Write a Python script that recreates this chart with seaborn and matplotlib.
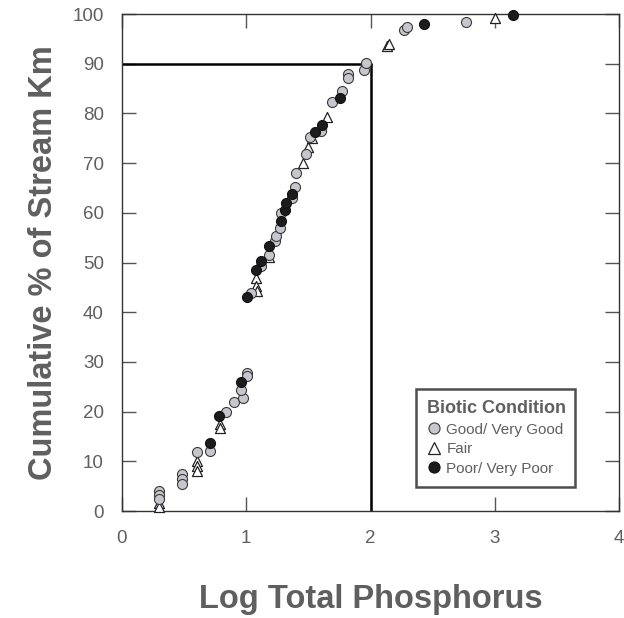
import matplotlib
matplotlib.use("Agg")
import matplotlib.pyplot as plt
from matplotlib.lines import Line2D
import seaborn as sns
import pandas as pd

sns.set_style("white")
plt.rcParams['font.family'] = ['Liberation Sans', 'DejaVu Sans']

# ---- data (log TP, cumulative % of stream km) ----
good_x = [0.30, 0.30, 0.30, 0.48, 0.48, 0.48, 0.60, 0.71, 0.84, 0.90, 0.97, 0.96,
          1.01, 1.01, 1.04, 1.12, 1.18, 1.23, 1.24, 1.27, 1.28, 1.37, 1.39, 1.40,
          1.48, 1.51, 1.60, 1.69, 1.77, 1.82, 1.82, 1.95, 1.96, 2.27, 2.29, 2.77]
good_y = [4.0, 3.2, 2.4, 7.4, 6.4, 5.4, 11.8, 12.1, 20.0, 21.9, 22.7, 24.4,
          27.8, 27.2, 43.9, 49.3, 51.6, 54.3, 55.3, 56.9, 60.0, 63.0, 65.2, 68.0,
          71.8, 75.3, 76.4, 82.3, 84.5, 88.0, 87.1, 88.7, 90.2, 96.8, 97.4, 98.4]

fair_x = [0.30, 0.30, 0.60, 0.60, 0.60, 0.79, 0.79, 1.08, 1.08, 1.09, 1.18,
          1.46, 1.50, 1.53, 1.65, 2.13, 2.15, 3.00]
fair_y = [1.7, 0.9, 10.0, 9.0, 8.0, 17.6, 16.7, 46.9, 45.3, 44.3, 51.2,
          70.0, 73.2, 75.0, 79.3, 93.6, 93.9, 99.2]

poor_x = [0.71, 0.78, 0.96, 1.01, 1.08, 1.12, 1.18, 1.28, 1.31, 1.32, 1.37,
          1.55, 1.61, 1.755, 2.43, 3.15]
poor_y = [13.6, 19.2, 25.9, 43.1, 48.5, 50.4, 53.4, 58.4, 60.6, 62.0, 63.8,
          76.3, 77.6, 83.1, 98.0, 99.8]

ref_x = 2.0
ref_y = 90.0

x_ticks = [0, 1, 2, 3, 4]
y_ticks = [0, 10, 20, 30, 40, 50, 60, 70, 80, 90, 100]

categories = ["Good/ Very Good", "Fair", "Poor/ Very Poor"]
legend_title = "Biotic Condition"
x_label = "Log Total Phosphorus"
y_label = "Cumulative % of Stream Km"

good = pd.DataFrame({"x": good_x, "y": good_y})
fair = pd.DataFrame({"x": fair_x, "y": fair_y})
poor = pd.DataFrame({"x": poor_x, "y": poor_y})

GRAY_TXT = "#5f5f5f"

fig = plt.figure(figsize=(6.24, 6.18), dpi=100)
ax = fig.add_axes([0.1955, 0.1731, 0.7965, 0.8042])

# reference lines at 90% / log TP = 2
ax.plot([0, ref_x], [ref_y, ref_y], color="black", lw=1.8, zorder=2)
ax.plot([ref_x, ref_x], [0, ref_y], color="black", lw=1.8, zorder=2)

sns.scatterplot(data=fair, x="x", y="y", ax=ax, marker="^", s=52,
                facecolor="white", edgecolor="#222222", linewidth=0.9,
                zorder=3, clip_on=False)
sns.scatterplot(data=good, x="x", y="y", ax=ax, marker="o", s=52,
                facecolor="#c6c7cc", edgecolor="#3a3a3a", linewidth=0.8,
                zorder=4, clip_on=False)
sns.scatterplot(data=poor, x="x", y="y", ax=ax, marker="o", s=52,
                facecolor="#1c1c1c", edgecolor="#111111", linewidth=0.8,
                zorder=5, clip_on=False)

ax.set_xlim(0, 4)
ax.set_ylim(0, 100)
ax.set_xticks(x_ticks)
ax.set_yticks(y_ticks)
ax.set_xticklabels([str(t) for t in x_ticks])
ax.set_yticklabels([str(t) for t in y_ticks])
ax.tick_params(axis="both", which="both", direction="in", length=10, width=1,
               color="#555555", labelsize=13.5, labelcolor=GRAY_TXT,
               top=True, right=True, bottom=True, left=True)
ax.tick_params(axis="x", pad=14)
ax.tick_params(axis="y", pad=13)

for sp in ax.spines.values():
    sp.set_visible(True)
    sp.set_color("#333333")
    sp.set_linewidth(1.0)

ax.set_xlabel(x_label, fontsize=23.5, fontweight="bold", color=GRAY_TXT, labelpad=26)
ax.set_ylabel(y_label, fontsize=23.5, fontweight="bold", color=GRAY_TXT, labelpad=10)

handles = [
    Line2D([], [], marker="o", linestyle="", markersize=8,
           markerfacecolor="#c6c7cc", markeredgecolor="#3a3a3a", markeredgewidth=0.8),
    Line2D([], [], marker="^", linestyle="", markersize=8,
           markerfacecolor="white", markeredgecolor="#222222", markeredgewidth=0.9),
    Line2D([], [], marker="o", linestyle="", markersize=8,
           markerfacecolor="#1c1c1c", markeredgecolor="#111111", markeredgewidth=0.8),
]
leg = ax.legend(handles, categories, title=legend_title, loc="lower left",
                bbox_to_anchor=(0.591, 0.048, 0.321, 0.206), mode="expand",
                frameon=True, fancybox=False, fontsize=11,
                title_fontproperties={"weight": "bold", "size": 13},
                handletextpad=0.35, handlelength=0.9, labelspacing=0.36,
                borderpad=0.75, borderaxespad=0.0, alignment="left")
leg.get_frame().set_edgecolor("#222222")
leg.get_frame().set_linewidth(1.8)
leg.get_title().set_color(GRAY_TXT)
for t in leg.get_texts():
    t.set_color(GRAY_TXT)

fig.savefig("out.png", dpi=100)
